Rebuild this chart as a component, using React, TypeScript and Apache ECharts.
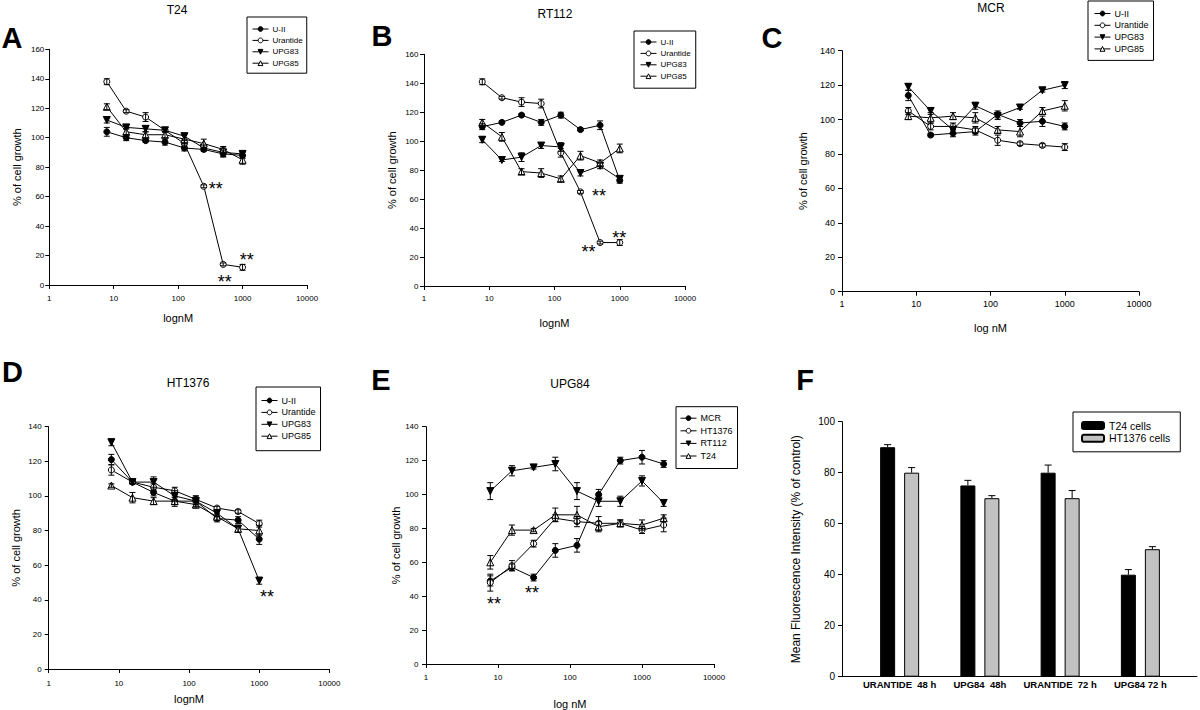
import React, { useEffect, useRef } from 'react';
import * as echarts from 'echarts';

const FONT = '"Liberation Sans", Arial, Helvetica, sans-serif';

// ---------------- data ----------------
const doses = [7.8125, 15.625, 31.25, 62.5, 125, 250, 500, 1000];
const dosesE = [7.8125, 15.625, 31.25, 62.5, 125, 250, 500, 1000, 2000];
const drugNames = ['U-II', 'Urantide', 'UPG83', 'UPG85'];
const cellLineNames = ['MCR', 'HT1376', 'RT112', 'T24'];

// A - T24
const aUII = [104, 100, 98, 97, 93, 92, 89, 88];
const aUIIErr = [3, 2, 1, 2, 2, 1, 2, 2];
const aUrantide = [138, 118, 114, 105, 96, 67, 14, 12];
const aUrantideErr = [2, 1, 3, 1, 2, 1, 1, 2];
const aUPG83 = [112, 107, 106, 105, 101, 93, 90, 89];
const aUPG83Err = [2, 1, 2, 1, 2, 2, 3, 2];
const aUPG85 = [121, 104, 102, 102, 99, 96, 92, 85];
const aUPG85Err = [2, 2, 2, 2, 3, 3, 2, 3];
const aStars = [[384, 68], [1160, 20], [530, 5]];

// B - RT112
const bUII = [110, 113, 118, 113, 118, 108, 111, 73];
const bUIIErr = [2, 1, 1, 2, 2, 1, 3, 2];
const bUrantide = [141, 130, 127, 126, 92, 65, 30, 30];
const bUrantideErr = [2, 1, 3, 3, 3, 1, 1, 2];
const bUPG83 = [101, 87, 89, 97, 96, 78, 83, 74];
const bUPG83Err = [2, 1, 3, 2, 3, 2, 2, 2];
const bUPG85 = [113, 103, 79, 78, 74, 90, 85, 95];
const bUPG85Err = [2, 3, 2, 3, 2, 3, 2, 3];
const bStars = [[480, 65], [333, 26], [980, 36]];

// C - MCR
const cUII = [114, 91, 92, 93, 103, 98, 99, 96];
const cUIIErr = [3, 1, 2, 2, 2, 2, 3, 2];
const cUrantide = [105, 96, 96, 94, 88, 86, 85, 84];
const cUrantideErr = [2, 2, 2, 2, 3, 1, 1, 2];
const cUPG83 = [119, 105, 94, 108, 102, 107, 117, 120];
const cUPG83Err = [2, 2, 2, 2, 2, 1, 1, 2];
const cUPG85 = [102, 101, 102, 101, 94, 93, 105, 108];
const cUPG85Err = [2, 3, 2, 3, 2, 3, 2, 3];

// D - HT1376
const dUII = [121, 108, 102, 97, 97, 87, 86, 75];
const dUIIErr = [3, 1, 2, 2, 2, 2, 2, 3];
const dUrantide = [115, 108, 105, 103, 98, 93, 91, 84];
const dUrantideErr = [3, 1, 2, 2, 2, 1, 1, 2];
const dUPG83 = [131, 108, 108, 100, 97, 90, 81, 51];
const dUPG83Err = [2, 1, 3, 3, 3, 2, 2, 2];
const dUPG85 = [106, 99, 97, 97, 95, 88, 81, 80];
const dUPG85Err = [1, 3, 2, 3, 2, 2, 2, 3];
const dStars = [[1290, 44]];

// E - UPG84
const eMCR = [49, 57, 51, 67, 70, 100, 120, 122, 118];
const eMCRErr = [3, 2, 2, 4, 4, 3, 2, 4, 2];
const eHT1376 = [48, 58, 71, 86, 84, 83, 83, 79, 82];
const eHT1376Err = [5, 3, 2, 2, 3, 4, 2, 2, 4];
const eRT112 = [102, 114, 116, 118, 102, 96, 96, 108, 95];
const eRT112Err = [5, 3, 1, 4, 5, 3, 3, 3, 2];
const eT24 = [60, 79, 79, 88, 88, 81, 83, 82, 86];
const eT24Err = [4, 3, 1, 4, 5, 3, 2, 3, 2];
const eStars = [[8.8, 38], [29.7, 44]];

// F - fluorescence
const fCategories = ['URANTIDE  48 h', 'UPG84  48h', 'URANTIDE  72 h', 'UPG84 72 h'];
const fSeriesNames = ['T24 cells', 'HT1376 cells'];
const fT24 = [90, 75, 80, 40];
const fT24Err = [1, 2, 3, 2];
const fHT1376 = [80, 70, 70, 50];
const fHT1376Err = [2, 1, 3, 1];

// ---------------- styles ----------------
const symbolStyles = [
  { symbol: 'circle', rotate: 0, size: 6, fill: '#000' },
  { symbol: 'circle', rotate: 0, size: 6, fill: '#fff' },
  { symbol: 'triangle', rotate: 180, size: 7, fill: '#000' },
  { symbol: 'triangle', rotate: 0, size: 7, fill: '#fff' },
];

type PanelCfg = {
  grid: { left: number; top: number; width: number; height: number };
  yMax: number;
  xName: string;
  xNameGap: number;
  yNameGap: number;
  tickFont: number;
  xLabelMargin: number;
  yLabelMargin: number;
  legend: { left: number; top: number; padding: number[]; gap: number; font: number };
  names: string[];
  xs: number[];
  ys: number[][];
  errs: number[][];
  stars: number[][];
};

const panels: PanelCfg[] = [
  {
    grid: { left: 49.3, top: 49.3, width: 257.7, height: 235.7 },
    yMax: 160, xName: 'lognM', xNameGap: 27, yNameGap: 27, tickFont: 8, xLabelMargin: 9, yLabelMargin: 5,
    legend: { left: 247, top: 17, padding: [8, 4, 6, 5], gap: 3.4, font: 8 },
    names: drugNames, xs: doses,
    ys: [aUII, aUrantide, aUPG83, aUPG85], errs: [aUIIErr, aUrantideErr, aUPG83Err, aUPG85Err], stars: aStars,
  },
  {
    grid: { left: 424, top: 54.3, width: 261, height: 231.7 },
    yMax: 160, xName: 'lognM', xNameGap: 31, yNameGap: 27, tickFont: 8, xLabelMargin: 8, yLabelMargin: 5.5,
    legend: { left: 634, top: 31, padding: [7, 5, 8, 6], gap: 3.4, font: 8 },
    names: drugNames, xs: doses,
    ys: [bUII, bUrantide, bUPG83, bUPG85], errs: [bUIIErr, bUrantideErr, bUPG83Err, bUPG85Err], stars: bStars,
  },
  {
    grid: { left: 842, top: 50.7, width: 297, height: 241 },
    yMax: 140, xName: 'log nM', xNameGap: 31, yNameGap: 34, tickFont: 9, xLabelMargin: 8, yLabelMargin: 7,
    legend: { left: 1088, top: 1, padding: [8, 5, 7, 6], gap: 2.8, font: 9 },
    names: drugNames, xs: doses,
    ys: [cUII, cUrantide, cUPG83, cUPG85], errs: [cUIIErr, cUrantideErr, cUPG83Err, cUPG85Err], stars: [],
  },
  {
    grid: { left: 48.7, top: 426.7, width: 280.7, height: 242.3 },
    yMax: 140, xName: 'lognM', xNameGap: 24, yNameGap: 27, tickFont: 8, xLabelMargin: 10, yLabelMargin: 7,
    legend: { left: 256, top: 387, padding: [9, 5, 10, 5], gap: 2.9, font: 9 },
    names: drugNames, xs: doses,
    ys: [dUII, dUrantide, dUPG83, dUPG85], errs: [dUIIErr, dUrantideErr, dUPG83Err, dUPG85Err], stars: dStars,
  },
  {
    grid: { left: 426, top: 426.7, width: 288, height: 241.6 },
    yMax: 140, xName: 'log nM', xNameGap: 34, yNameGap: 25, tickFont: 8, xLabelMargin: 9.5, yLabelMargin: 7.5,
    legend: { left: 676, top: 406.7, padding: [7, 5, 8, 4], gap: 3.6, font: 9 },
    names: cellLineNames, xs: dosesE,
    ys: [eMCR, eHT1376, eRT112, eT24], errs: [eMCRErr, eHT1376Err, eRT112Err, eT24Err], stars: eStars,
  },
];

const titles = [
  { text: 'T24', x: 177, y: 10 },
  { text: 'RT112', x: 555, y: 14 },
  { text: 'MCR', x: 991, y: 8 },
  { text: 'HT1376', x: 188, y: 383 },
  { text: 'UPG84', x: 570, y: 384 },
];
const letters = [
  { text: 'A', x: 12, y: 38 },
  { text: 'B', x: 382, y: 36 },
  { text: 'C', x: 772, y: 38 },
  { text: 'D', x: 12.5, y: 372 },
  { text: 'E', x: 381, y: 380 },
  { text: 'F', x: 805, y: 380 },
];

const axisLineStyle = { show: true, lineStyle: { color: '#000', width: 1 } };
const axisTickStyle = { show: true, inside: false, length: 4, lineStyle: { color: '#000', width: 1 } };

function errorBarSeries(xs: number[], ys: number[], errs: number[], idx: number) {
  return {
    type: 'custom',
    xAxisIndex: idx,
    yAxisIndex: idx,
    silent: true,
    z: 4,
    data: xs.map((x, i) => [x, ys[i] - errs[i], ys[i] + errs[i]]),
    encode: { x: 0, y: [1, 2] },
    renderItem: (_params: any, api: any) => {
      const lo = api.coord([api.value(0), api.value(1)]);
      const hi = api.coord([api.value(0), api.value(2)]);
      const w = 3;
      const st = { stroke: '#000', lineWidth: 1 };
      return {
        type: 'group',
        children: [
          { type: 'line', shape: { x1: lo[0], y1: lo[1], x2: hi[0], y2: hi[1] }, style: st },
          { type: 'line', shape: { x1: lo[0] - w, y1: lo[1], x2: lo[0] + w, y2: lo[1] }, style: st },
          { type: 'line', shape: { x1: hi[0] - w, y1: hi[1], x2: hi[0] + w, y2: hi[1] }, style: st },
        ],
      };
    },
  };
}

function buildOption() {
  const grid: any[] = [];
  const xAxis: any[] = [];
  const yAxis: any[] = [];
  const series: any[] = [];
  const legend: any[] = [];

  panels.forEach((p, idx) => {
    grid.push({ ...p.grid });
    xAxis.push({
      type: 'log', logBase: 10, gridIndex: idx, min: 1, max: 10000,
      axisLine: axisLineStyle, axisTick: axisTickStyle,
      minorTick: { show: false }, splitLine: { show: false }, minorSplitLine: { show: false },
      axisLabel: {
        color: '#000', fontSize: p.tickFont, fontFamily: FONT, margin: p.xLabelMargin,
        formatter: (v: number) => String(Math.round(v)),
      },
      name: p.xName, nameLocation: 'middle', nameGap: p.xNameGap,
      nameTextStyle: { color: '#000', fontSize: 11, fontFamily: FONT },
    });
    yAxis.push({
      type: 'value', gridIndex: idx, min: 0, max: p.yMax, interval: 20,
      axisLine: axisLineStyle, axisTick: axisTickStyle, splitLine: { show: false },
      axisLabel: { color: '#000', fontSize: p.tickFont, fontFamily: FONT, margin: p.yLabelMargin },
      name: '% of cell growth', nameLocation: 'middle', nameGap: p.yNameGap, nameRotate: 90,
      nameTextStyle: { color: '#000', fontSize: 11, fontFamily: FONT },
    });
    p.names.forEach((name, si) => {
      const s = symbolStyles[si];
      series.push({
        type: 'line', name, xAxisIndex: idx, yAxisIndex: idx,
        data: p.xs.map((x, i) => [x, p.ys[si][i]]),
        symbol: s.symbol, symbolRotate: s.rotate, symbolSize: s.size,
        showAllSymbol: true,
        lineStyle: { color: '#000', width: 1 },
        itemStyle: { color: s.fill, borderColor: '#000', borderWidth: 1 },
        emphasis: { disabled: true },
        z: 3,
      });
      series.push(errorBarSeries(p.xs, p.ys[si], p.errs[si], idx));
    });
    if (p.stars.length) {
      series.push({
        type: 'scatter', xAxisIndex: idx, yAxisIndex: idx,
        data: p.stars, symbol: 'circle', symbolSize: 0,
        itemStyle: { color: '#000', opacity: 1 },
        silent: true, z: 5,
        label: {
          show: true, formatter: '**', position: 'inside', offset: [0, 4],
          color: '#000', opacity: 1, fontSize: 18, fontFamily: FONT,
        },
      });
    }
    legend.push({
      data: p.names,
      orient: 'vertical', left: p.legend.left, top: p.legend.top,
      padding: p.legend.padding, itemGap: p.legend.gap, itemWidth: 16, itemHeight: 6,
      itemStyle: { borderWidth: 1 },
      lineStyle: { width: 1 },
      borderColor: '#000', borderWidth: 1, backgroundColor: '#fff',
      selectedMode: false,
      textStyle: { color: '#000', fontSize: p.legend.font, fontFamily: FONT, padding: [0, 0, 0, -1] },
    });
  });

  // Panel F: wide grid for the axis frame, inner grid for the categories
  const fOuter = grid.length;
  grid.push({ left: 842, top: 421.7, width: 355, height: 255 });
  xAxis.push({
    type: 'value', gridIndex: fOuter, min: 0, max: 1,
    axisLine: axisLineStyle, axisTick: { show: false }, axisLabel: { show: false }, splitLine: { show: false },
  });
  yAxis.push({
    type: 'value', gridIndex: fOuter, min: 0, max: 100, interval: 20,
    axisLine: axisLineStyle, axisTick: axisTickStyle, splitLine: { show: false },
    axisLabel: { color: '#000', fontSize: 10, fontFamily: FONT, margin: 7 },
    name: 'Mean Fluorescence Intensity (% of control)', nameLocation: 'middle', nameGap: 40, nameRotate: 90,
    nameTextStyle: { color: '#000', fontSize: 12, fontFamily: FONT },
  });
  const fInner = grid.length;
  grid.push({ left: 859.5, top: 421.7, width: 321, height: 255 });
  xAxis.push({
    type: 'category', gridIndex: fInner, data: fCategories,
    axisLine: { show: false }, axisTick: { show: false }, splitLine: { show: false },
    axisLabel: { color: '#000', fontSize: 9.5, fontWeight: 'bold', fontFamily: FONT, margin: 3, interval: 0 },
  });
  yAxis.push({ type: 'value', gridIndex: fInner, min: 0, max: 100, show: false });

  const barWidth = 15;
  const barGapPx = 9;
  const fVals = [fT24, fHT1376];
  const fErrs = [fT24Err, fHT1376Err];
  const fColors = ['#000', '#c2c2c2'];
  fSeriesNames.forEach((name, si) => {
    series.push({
      type: 'bar', name, xAxisIndex: fInner, yAxisIndex: fInner,
      data: fVals[si], barWidth, barGap: `${(barGapPx / barWidth) * 100}%`,
      itemStyle: { color: fColors[si], borderColor: '#000', borderWidth: 1 },
      emphasis: { disabled: true },
      z: 2,
    });
  });
  fSeriesNames.forEach((_name, si) => {
    const dx = (si === 0 ? -1 : 1) * (barWidth + barGapPx) / 2;
    series.push({
      type: 'custom', xAxisIndex: fInner, yAxisIndex: fInner, silent: true, z: 3,
      data: fVals[si].map((v, i) => [i, v, v + fErrs[si][i]]),
      encode: { x: 0, y: [1, 2] },
      renderItem: (_params: any, api: any) => {
        const lo = api.coord([api.value(0), api.value(1)]);
        const hi = api.coord([api.value(0), api.value(2)]);
        const x = lo[0] + dx;
        const st = { stroke: '#000', lineWidth: 1 };
        return {
          type: 'group',
          children: [
            { type: 'line', shape: { x1: x, y1: lo[1], x2: x, y2: hi[1] }, style: st },
            { type: 'line', shape: { x1: x - 3.5, y1: hi[1], x2: x + 3.5, y2: hi[1] }, style: st },
          ],
        };
      },
    });
  });
  legend.push({
    data: fSeriesNames, orient: 'vertical', left: 1073, top: 412,
    padding: [8, 10, 8, 8], itemGap: 1.8, itemWidth: 22, itemHeight: 7,
    borderColor: '#000', borderWidth: 1, backgroundColor: '#fff', selectedMode: false,
    textStyle: { color: '#000', fontSize: 10.5, fontFamily: FONT },
  });

  const graphic: any[] = [];
  titles.forEach((t) => {
    graphic.push({
      type: 'text', x: t.x, y: t.y, silent: true,
      style: { text: t.text, fill: '#000', fontSize: 12, fontFamily: FONT, align: 'center', verticalAlign: 'middle' },
    });
  });
  letters.forEach((t) => {
    graphic.push({
      type: 'text', x: t.x, y: t.y, silent: true,
      style: {
        text: t.text, fill: '#000', fontSize: 29, fontWeight: 'bold', fontFamily: FONT,
        align: 'center', verticalAlign: 'middle',
      },
    });
  });

  return {
    animation: false,
    backgroundColor: '#fff',
    textStyle: { fontFamily: FONT, color: '#000' },
    grid, xAxis, yAxis, series, legend, graphic,
    tooltip: { show: false },
  };
}

export default function App() {
  const ref = useRef<HTMLDivElement>(null);
  useEffect(() => {
    if (!ref.current) return;
    const chart = echarts.init(ref.current, undefined, { renderer: 'svg' });
    chart.setOption(buildOption() as any);
    return () => chart.dispose();
  }, []);
  return (
    <div
      ref={ref}
      style={{ position: 'absolute', left: 0, top: 0, width: 1200, height: 710, background: '#fff' }}
    />
  );
}
